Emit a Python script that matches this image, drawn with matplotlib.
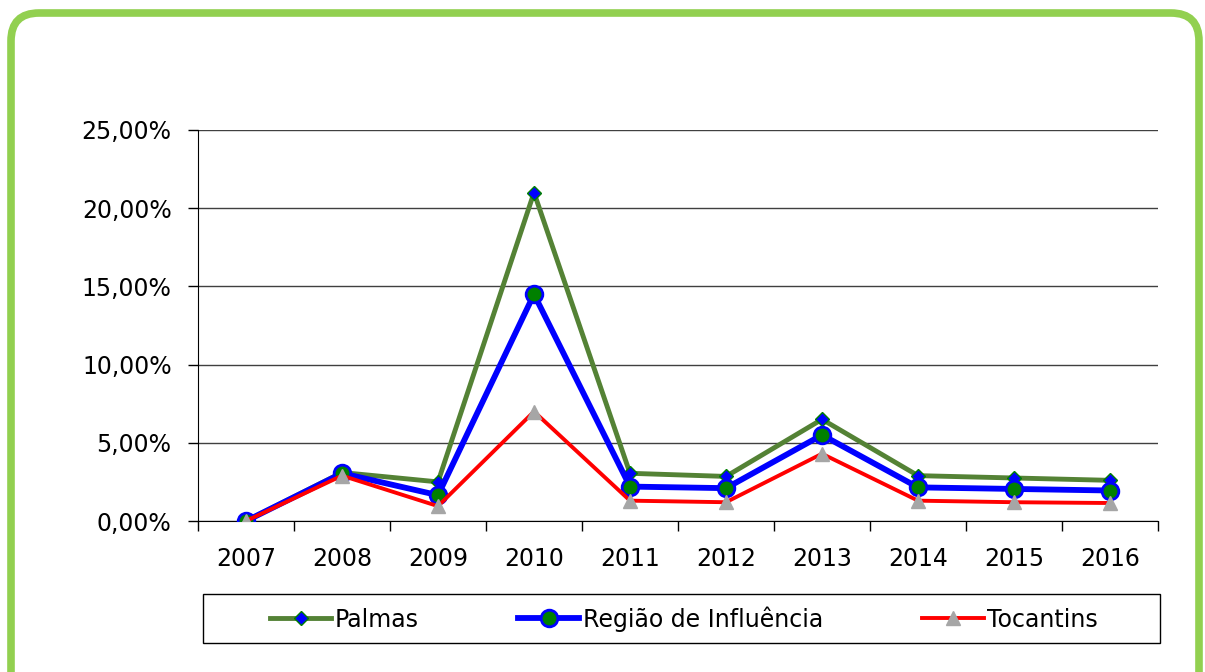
import matplotlib.pyplot as plt
from matplotlib.patches import FancyBboxPatch, Rectangle
from matplotlib.ticker import FuncFormatter, FixedLocator

years = ["2007", "2008", "2009", "2010", "2011", "2012", "2013", "2014", "2015", "2016"]
palmas = [0.0, 3.1, 2.5, 21.0, 3.05, 2.85, 6.5, 2.9, 2.75, 2.6]
regiao = [0.0, 3.05, 1.65, 14.5, 2.2, 2.1, 5.5, 2.15, 2.05, 1.95]
tocantins = [0.0, 2.9, 0.95, 7.0, 1.3, 1.2, 4.3, 1.3, 1.2, 1.15]

plt.rcParams["font.family"] = ["DejaVu Sans"]

fig = plt.figure(figsize=(12.05, 6.72), dpi=100)

# background axes in pixel units: green rounded frame + legend box
bg = fig.add_axes([0, 0, 1, 1], zorder=-1)
bg.set_xlim(0, 1205)
bg.set_ylim(672, 0)
bg.set_axis_off()
bg.add_patch(FancyBboxPatch((11, 13), 1188, 700,
                            boxstyle="round,pad=0,rounding_size=28",
                            facecolor="white", edgecolor="#92D050", linewidth=5.5))
bg.add_patch(Rectangle((203, 594), 957, 49, facecolor="white",
                       edgecolor="black", linewidth=1))

ax = fig.add_axes([198 / 1205, 1 - 521 / 672, 960 / 1205, 391 / 672])
ax.set_facecolor("none")

x = list(range(len(years)))
ax.plot(x, palmas, color="#548235", linewidth=3.5, marker="D", markersize=7,
        markerfacecolor="#0000FF", markeredgecolor="#008000", markeredgewidth=1,
        label="Palmas", zorder=3)
ax.plot(x, regiao, color="#0000FF", linewidth=4.2, marker="o", markersize=12,
        markerfacecolor="#008000", markeredgecolor="#0000FF", markeredgewidth=2,
        label="Região de Influência", zorder=4)
ax.plot(x, tocantins, color="#FF0000", linewidth=2.8, marker="^", markersize=10,
        markerfacecolor="#A6A6A6", markeredgecolor="#A6A6A6",
        label="Tocantins", zorder=5)

ax.set_xlim(-0.5, len(years) - 0.5)
ax.set_ylim(0, 25)
ax.set_yticks([0, 5, 10, 15, 20, 25])
ax.yaxis.set_major_formatter(FuncFormatter(lambda v, p: f"{v:.2f}%".replace(".", ",")))
ax.xaxis.set_major_locator(FixedLocator([i - 0.5 for i in range(len(years) + 1)]))
ax.set_xticklabels([])
ax.set_xticks(x, minor=True)
ax.set_xticklabels(years, minor=True)
ax.tick_params(axis="x", which="major", length=7, width=1, color="black")
ax.tick_params(axis="x", which="minor", length=0, pad=19, labelsize=17)
ax.tick_params(axis="y", length=7, width=1, labelsize=17, pad=12)

ax.grid(axis="y", color="#404040", linewidth=1)
ax.set_axisbelow(True)
for s in ["top", "right"]:
    ax.spines[s].set_visible(False)
ax.spines["left"].set_color("black")
ax.spines["bottom"].set_color("black")

leg = ax.legend(loc="center", bbox_to_anchor=(684 / 1205, 1 - 619 / 672),
                bbox_transform=fig.transFigure, ncol=3, frameon=False,
                fontsize=17, handlelength=2.6, handletextpad=0.15,
                columnspacing=4.2, borderaxespad=0, borderpad=0)

fig.savefig("out.png", dpi=100)
